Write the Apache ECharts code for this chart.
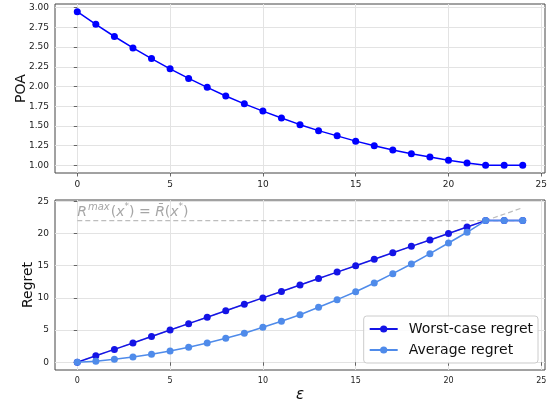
<!DOCTYPE html>
<html><head><meta charset="utf-8">
<script src="https://cdn.jsdelivr.net/npm/echarts@6/dist/echarts.min.js"></script>
<style>html,body{margin:0;padding:0;background:#fff}#c{width:551px;height:404px}</style>
</head><body><div id="c"></div>
<script>
// ---- data ----
const epsilon = [0,1,2,3,4,5,6,7,8,9,10,11,12,13,14,15,16,17,18,19,20,21,22,23,24];
const poa = [2.95,2.79,2.635,2.49,2.355,2.225,2.103,1.99,1.88,1.78,1.688,1.60,1.516,1.44,1.374,1.307,1.248,1.194,1.147,1.106,1.063,1.03,1.0,1.0,1.0];
const worstRegret = [0,1,2,3,4,5,6,7,8,9,10,11,12,13,14,15,16,17,18,19,20,21,22,22,22];
const avgRegret = [0,0.16,0.47,0.82,1.24,1.75,2.33,3.0,3.73,4.5,5.43,6.37,7.39,8.54,9.72,10.96,12.31,13.76,15.26,16.86,18.52,20.19,22,22,22];
const thresholdRegret = 22;
const refLineX = [0, 24];
const xTicks = [0,5,10,15,20,25];
const poaTicks = [1.00,1.25,1.50,1.75,2.00,2.25,2.50,2.75,3.00];
const regretTicks = [0,5,10,15,20,25];
const seriesNames = ['Worst-case regret','Average regret'];

// ---- styling ----
const FONT = 'DejaVu Sans';
const gridColor = '#e3e3e3';
const spine = '#444';
const pair = (xs, ys) => xs.map((x, i) => [x, ys[i]]);

function xAxisCfg(gridIndex, fs, name) {
  return {
    type: 'value', gridIndex, min: -1.2, max: 25.2,
    axisLine: {show: false},
    axisTick: {show: true, length: 3.5, customValues: xTicks, lineStyle: {color: spine, width: 0.8}},
    axisLabel: {customValues: xTicks, fontFamily: FONT, fontSize: fs, color: '#222', margin: 7},
    splitLine: {show: true, lineStyle: {color: gridColor, width: 1}},
    name: name || '', nameLocation: 'middle', nameGap: 18, nameMoveOverlap: false,
    nameTextStyle: {fontFamily: FONT, fontSize: 15, fontStyle: 'italic', color: '#111'}
  };
}
function yAxisCfg(gridIndex, min, max, ticks, fmt, name, gap) {
  return {
    type: 'value', gridIndex, min, max,
    axisLine: {show: false},
    axisTick: {show: true, length: 3.5, customValues: ticks, lineStyle: {color: spine, width: 0.8}},
    axisLabel: {customValues: ticks, fontFamily: FONT, fontSize: 9, color: '#222', margin: 6, formatter: fmt},
    splitLine: {show: true, lineStyle: {color: gridColor, width: 1}},
    name, nameLocation: 'middle', nameRotate: 90, nameGap: gap, nameMoveOverlap: false,
    nameTextStyle: {fontFamily: FONT, fontSize: 14, color: '#111'}
  };
}

const chart = echarts.init(document.getElementById('c'), null, {renderer: 'canvas'});
chart.setOption({
  animation: false,
  backgroundColor: '#fff',
  grid: [
    {left: 55, right: 6, top: 4, height: 169, show: true, borderColor: spine, borderWidth: 1, backgroundColor: 'transparent', containLabel: false, outerBoundsMode: 'none'},
    {left: 55, right: 6, top: 200, height: 170, show: true, borderColor: spine, borderWidth: 1, backgroundColor: 'transparent', containLabel: false, outerBoundsMode: 'none'}
  ],
  xAxis: [xAxisCfg(0, 9), xAxisCfg(1, 8, 'ε')],
  yAxis: [
    yAxisCfg(0, 0.9025, 3.0475, poaTicks, v => v.toFixed(2), 'POA', 27),
    yAxisCfg(1, -1.2, 25.2, regretTicks, v => String(Math.round(v)), 'Regret', 20)
  ],
  legend: {
    data: seriesNames, orient: 'vertical', right: 13, bottom: 41,
    itemWidth: 28, itemHeight: 9, itemGap: 7, padding: [6, 5, 6, 5],
    backgroundColor: 'rgba(255,255,255,0.85)', borderColor: '#cccccc', borderWidth: 1, borderRadius: 3,
    textStyle: {fontFamily: FONT, fontSize: 14, color: '#111', padding: [0, 0, 0, 6]}
  },
  series: [
    {
      type: 'line', xAxisIndex: 0, yAxisIndex: 0, data: pair(epsilon, poa),
      symbol: 'circle', symbolSize: 7, itemStyle: {color: '#0000ff'},
      lineStyle: {color: '#0000ff', width: 1.5}, z: 3
    },
    {
      type: 'line', xAxisIndex: 1, yAxisIndex: 1, data: pair(refLineX, refLineX.map(() => thresholdRegret)),
      symbol: 'none', lineStyle: {color: '#bdbdbd', width: 1.2, type: [5, 3]}, z: 1, silent: true
    },
    {
      type: 'line', xAxisIndex: 1, yAxisIndex: 1, data: pair(refLineX, refLineX),
      symbol: 'none', lineStyle: {color: '#bdbdbd', width: 1.2, type: [5, 3]}, z: 1, silent: true
    },
    {
      name: seriesNames[0], type: 'line', xAxisIndex: 1, yAxisIndex: 1, data: pair(epsilon, worstRegret),
      symbol: 'circle', symbolSize: 7, itemStyle: {color: '#1414e6'},
      lineStyle: {color: '#1414e6', width: 1.5}, z: 3
    },
    {
      name: seriesNames[1], type: 'line', xAxisIndex: 1, yAxisIndex: 1, data: pair(epsilon, avgRegret),
      symbol: 'circle', symbolSize: 7, itemStyle: {color: '#4f8bea'},
      lineStyle: {color: '#4f8bea', width: 1.5}, z: 4
    },
    {
      type: 'scatter', xAxisIndex: 1, yAxisIndex: 1, data: [[0, thresholdRegret]],
      symbolSize: 0, silent: true, z: 5,
      label: {
        show: true, position: [0, 0], align: 'left', verticalAlign: 'bottom', offset: [0, -1],
        formatter: () => '{i|R}{s|max}{n|(}{i|x}{t|*}{n|) = }{i|R̄}{n|(}{i|x}{t|*}{n|)}',
        rich: {
          i: {fontFamily: FONT, fontSize: 14, fontStyle: 'italic', color: '#8f8f8f', lineHeight: 17, verticalAlign: 'bottom'},
          n: {fontFamily: FONT, fontSize: 14, color: '#8f8f8f', lineHeight: 17, verticalAlign: 'bottom'},
          s: {fontFamily: FONT, fontSize: 10, fontStyle: 'italic', color: '#8f8f8f', lineHeight: 17, verticalAlign: 'top', padding: [0, 1, 0, 1]},
          t: {fontFamily: FONT, fontSize: 9, color: '#8f8f8f', lineHeight: 17, verticalAlign: 'top'}
        }
      }
    }
  ]
});
</script>
</body></html>
